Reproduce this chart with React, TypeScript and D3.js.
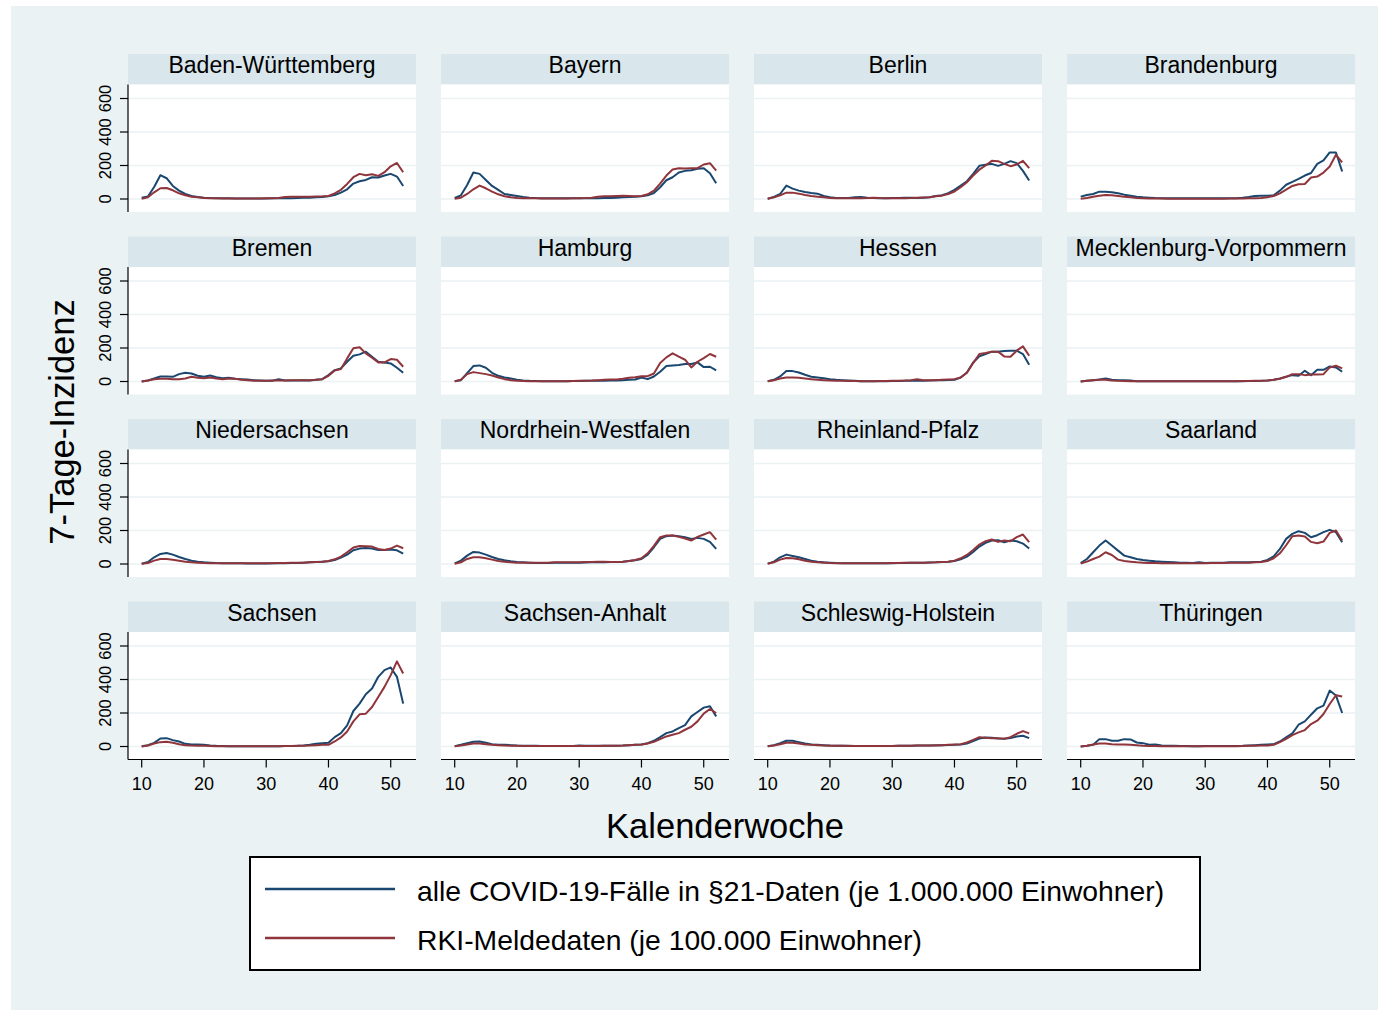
import * as d3 from "d3";

// Kalenderwochen 10..52
const weeks = [10, 11, 12, 13, 14, 15, 16, 17, 18, 19, 20, 21, 22, 23, 24, 25, 26, 27, 28, 29, 30, 31, 32, 33, 34, 35, 36, 37, 38, 39, 40, 41, 42, 43, 44, 45, 46, 47, 48, 49, 50, 51, 52];
const xTicks = [10, 20, 30, 40, 50];
const yTicks = [0, 200, 400, 600];

// blau: alle COVID-19-Fälle in §21-Daten (je 1.000.000), rot: RKI-Meldedaten (je 100.000)
const bw21 = [8, 15, 72, 142, 124, 78, 50, 30, 18, 12, 8, 6, 5, 4, 4, 3, 3, 3, 3, 3, 3, 4, 4, 5, 5, 6, 7, 8, 10, 12, 16, 24, 38, 58, 92, 106, 114, 130, 128, 140, 150, 134, 78];
const bwRki = [2, 10, 40, 64, 66, 52, 34, 22, 14, 10, 6, 5, 4, 3, 3, 3, 3, 3, 3, 3, 4, 5, 6, 12, 14, 14, 13, 14, 15, 16, 18, 34, 55, 90, 130, 150, 142, 148, 138, 160, 195, 215, 160];
const by21 = [6, 22, 84, 158, 150, 114, 78, 54, 30, 24, 18, 12, 8, 6, 5, 4, 4, 4, 4, 4, 4, 4, 5, 5, 6, 6, 8, 10, 12, 14, 16, 22, 36, 70, 112, 130, 158, 168, 172, 180, 184, 154, 94];
const byRki = [2, 8, 30, 58, 80, 64, 44, 28, 16, 10, 6, 5, 4, 4, 3, 3, 3, 3, 3, 4, 5, 6, 8, 14, 16, 16, 18, 20, 18, 16, 18, 28, 50, 92, 140, 176, 184, 182, 184, 184, 206, 214, 170];
const be21 = [2, 12, 30, 80, 62, 50, 42, 36, 32, 18, 10, 6, 6, 6, 10, 12, 8, 6, 4, 4, 6, 6, 8, 8, 6, 8, 10, 18, 22, 35, 55, 80, 106, 150, 198, 204, 210, 198, 210, 226, 214, 168, 110];
const beRki = [2, 10, 22, 38, 38, 32, 24, 18, 14, 10, 6, 5, 4, 4, 4, 5, 6, 8, 6, 5, 4, 4, 5, 6, 8, 9, 10, 16, 20, 30, 45, 70, 100, 140, 175, 200, 228, 226, 210, 196, 206, 228, 184];
const bb21 = [14, 24, 30, 44, 44, 40, 34, 26, 20, 14, 10, 8, 6, 5, 4, 4, 4, 4, 4, 4, 4, 4, 4, 4, 4, 5, 8, 12, 18, 20, 20, 22, 50, 85, 102, 120, 140, 155, 210, 230, 278, 278, 164];
const bbRki = [2, 6, 14, 20, 24, 22, 18, 14, 10, 6, 4, 3, 3, 3, 2, 2, 2, 2, 2, 2, 2, 2, 2, 2, 3, 3, 3, 4, 5, 6, 10, 18, 34, 56, 78, 88, 90, 128, 134, 158, 194, 264, 218];
const hb21 = [0, 6, 18, 30, 30, 28, 44, 52, 48, 34, 28, 36, 26, 20, 22, 16, 14, 12, 8, 6, 4, 4, 14, 6, 6, 6, 8, 6, 10, 14, 38, 68, 78, 118, 154, 162, 178, 148, 118, 114, 108, 82, 52];
const hbRki = [0, 6, 14, 16, 16, 14, 14, 18, 28, 22, 20, 24, 18, 14, 18, 16, 10, 8, 4, 4, 4, 6, 6, 6, 8, 8, 8, 8, 10, 14, 34, 66, 74, 138, 198, 204, 168, 142, 114, 114, 134, 130, 88];
const hh21 = [2, 8, 50, 92, 96, 82, 52, 34, 24, 18, 10, 6, 4, 3, 2, 2, 2, 2, 2, 3, 3, 4, 4, 5, 5, 6, 6, 8, 10, 12, 24, 14, 30, 58, 92, 96, 98, 104, 104, 114, 86, 88, 66];
const hhRki = [2, 10, 44, 56, 50, 44, 36, 24, 14, 8, 4, 3, 2, 2, 2, 2, 2, 2, 2, 3, 4, 5, 6, 8, 10, 12, 12, 16, 22, 26, 32, 32, 48, 110, 144, 168, 148, 130, 84, 118, 140, 164, 148];
const he21 = [2, 10, 30, 62, 62, 54, 40, 28, 24, 20, 14, 10, 8, 6, 4, 2, 2, 2, 2, 2, 3, 3, 4, 4, 5, 5, 6, 7, 8, 9, 10, 24, 54, 114, 150, 164, 178, 178, 182, 184, 184, 164, 100];
const heRki = [2, 8, 18, 24, 24, 22, 18, 14, 10, 8, 6, 5, 4, 3, 3, 2, 2, 2, 3, 3, 4, 5, 6, 8, 14, 8, 8, 8, 10, 12, 14, 24, 52, 110, 164, 170, 178, 178, 150, 148, 184, 210, 154];
const mv21 = [0, 4, 8, 12, 18, 10, 8, 8, 6, 2, 2, 2, 2, 2, 2, 2, 2, 2, 2, 2, 2, 2, 2, 2, 2, 2, 2, 3, 3, 4, 6, 10, 18, 28, 38, 34, 64, 38, 70, 70, 90, 84, 58];
const mvRki = [0, 4, 8, 10, 10, 6, 4, 3, 2, 2, 2, 2, 2, 2, 2, 2, 2, 2, 2, 2, 2, 2, 2, 2, 2, 2, 3, 3, 4, 4, 6, 10, 16, 28, 44, 44, 38, 42, 42, 44, 84, 94, 78];
const ni21 = [2, 12, 40, 60, 66, 56, 42, 30, 20, 14, 10, 8, 6, 5, 4, 4, 4, 3, 3, 3, 3, 4, 4, 5, 6, 6, 8, 10, 12, 14, 16, 24, 38, 56, 82, 92, 96, 92, 84, 84, 86, 82, 62];
const niRki = [1, 6, 20, 30, 30, 26, 20, 14, 10, 8, 6, 5, 4, 4, 4, 4, 4, 4, 4, 4, 4, 5, 6, 6, 7, 8, 8, 10, 12, 14, 18, 28, 44, 70, 98, 108, 106, 104, 90, 84, 92, 110, 94];
const nw21 = [4, 20, 50, 72, 68, 56, 42, 30, 22, 16, 12, 10, 8, 6, 6, 6, 7, 8, 8, 8, 8, 9, 10, 10, 11, 12, 12, 14, 18, 22, 30, 56, 100, 150, 166, 170, 166, 160, 150, 156, 150, 132, 90];
const nwRki = [2, 10, 30, 40, 40, 34, 26, 18, 14, 10, 8, 8, 7, 7, 8, 8, 10, 10, 10, 10, 10, 12, 12, 14, 14, 12, 12, 14, 18, 24, 34, 64, 108, 160, 170, 170, 162, 152, 140, 162, 176, 190, 145];
const rp21 = [2, 14, 40, 56, 48, 40, 30, 20, 14, 10, 8, 6, 5, 4, 4, 4, 4, 4, 4, 5, 5, 6, 6, 7, 8, 8, 9, 10, 12, 14, 18, 28, 44, 72, 104, 126, 140, 142, 130, 140, 136, 122, 92];
const rpRki = [2, 10, 26, 36, 34, 28, 20, 14, 10, 8, 6, 5, 4, 4, 4, 4, 4, 4, 4, 5, 6, 6, 8, 8, 8, 8, 9, 10, 12, 14, 20, 34, 54, 84, 116, 136, 146, 132, 140, 136, 160, 176, 130];
const sl21 = [6, 30, 70, 110, 140, 110, 80, 50, 40, 30, 24, 20, 16, 14, 12, 10, 8, 8, 6, 10, 6, 8, 8, 8, 10, 10, 10, 10, 12, 14, 24, 46, 90, 150, 180, 196, 186, 160, 172, 190, 204, 190, 130];
const slRki = [2, 14, 30, 44, 70, 54, 26, 18, 14, 10, 8, 6, 6, 5, 5, 5, 5, 5, 5, 5, 5, 6, 6, 6, 7, 8, 8, 8, 10, 12, 18, 34, 64, 112, 166, 170, 164, 132, 124, 134, 186, 200, 140];
const sn21 = [2, 8, 22, 48, 50, 38, 30, 16, 12, 12, 10, 6, 4, 3, 2, 2, 2, 2, 2, 2, 2, 2, 2, 3, 3, 4, 6, 10, 16, 20, 22, 56, 80, 126, 212, 256, 312, 346, 416, 456, 472, 416, 256];
const snRki = [0, 6, 18, 26, 28, 22, 14, 8, 6, 5, 4, 3, 2, 2, 2, 2, 2, 2, 2, 2, 2, 2, 2, 3, 3, 4, 5, 6, 8, 10, 10, 30, 54, 90, 150, 192, 196, 236, 296, 356, 426, 508, 436];
const st21 = [2, 10, 20, 28, 30, 22, 14, 10, 10, 8, 6, 5, 4, 4, 3, 3, 3, 3, 3, 3, 6, 4, 4, 5, 4, 4, 5, 6, 8, 10, 12, 20, 34, 56, 80, 90, 110, 128, 180, 206, 232, 240, 180];
const stRki = [1, 6, 12, 18, 18, 14, 10, 8, 6, 5, 4, 3, 3, 3, 3, 3, 3, 3, 3, 3, 3, 3, 3, 3, 4, 4, 5, 6, 8, 10, 12, 18, 28, 44, 60, 70, 80, 100, 118, 150, 196, 224, 200];
const sh21 = [2, 8, 20, 34, 34, 26, 18, 12, 10, 8, 6, 5, 4, 4, 3, 3, 3, 3, 3, 3, 3, 4, 4, 5, 6, 6, 6, 7, 8, 9, 10, 12, 18, 32, 48, 54, 52, 48, 46, 50, 60, 64, 50];
const shRki = [1, 6, 14, 22, 22, 18, 12, 10, 8, 6, 5, 4, 4, 3, 3, 3, 3, 3, 3, 3, 3, 4, 4, 5, 6, 6, 6, 6, 8, 10, 12, 14, 24, 40, 56, 52, 50, 50, 46, 56, 76, 92, 78];
const th21 = [0, 4, 10, 44, 44, 34, 34, 44, 42, 24, 20, 10, 12, 6, 4, 4, 3, 3, 2, 2, 3, 3, 3, 3, 3, 3, 4, 6, 8, 10, 12, 14, 30, 54, 78, 130, 150, 190, 228, 244, 334, 304, 200];
const thRki = [0, 4, 12, 18, 18, 14, 12, 12, 10, 8, 4, 3, 3, 2, 2, 2, 2, 2, 2, 2, 2, 2, 2, 2, 2, 2, 3, 4, 5, 6, 6, 10, 26, 46, 68, 84, 98, 134, 154, 194, 254, 306, 298];

const stateNames = [
  "Baden-Württemberg", "Bayern", "Berlin", "Brandenburg",
  "Bremen", "Hamburg", "Hessen", "Mecklenburg-Vorpommern",
  "Niedersachsen", "Nordrhein-Westfalen", "Rheinland-Pfalz", "Saarland",
  "Sachsen", "Sachsen-Anhalt", "Schleswig-Holstein", "Thüringen",
]
const series21 = [bw21, by21, be21, bb21, hb21, hh21, he21, mv21, ni21, nw21, rp21, sl21, sn21, st21, sh21, th21]
const seriesRki = [bwRki, byRki, beRki, bbRki, hbRki, hhRki, heRki, mvRki, niRki, nwRki, rpRki, slRki, snRki, stRki, shRki, thRki]

const legendLabels = [
  "alle COVID-19-Fälle in §21-Daten (je 1.000.000 Einwohner)",
  "RKI-Meldedaten (je 100.000 Einwohner)",
]

const BLUE = "#1a476f"
const RED = "#90353b"
const BG = "#eaf2f3"
const HEAD = "#d9e6eb"
const FONT = "'Liberation Sans', Arial, Helvetica, sans-serif"

const colX = [128, 441, 754, 1067]
const rowY = [54, 236.5, 419, 601.5]
const panelW = 288
const headH = 30.5
const plotH = 127.5

export default function App() {
  const x = d3.scaleLinear().domain([7.8, 54.06]).range([0, panelW])
  const y = d3.scaleLinear().domain([-77.6, 683.6]).range([plotH, 0])
  const line = d3
    .line<number>()
    .x((_, i) => x(weeks[i]))
    .y((d) => y(d))

  return (
    <svg
      width={1380}
      height={1012}
      viewBox="0 0 1380 1012"
      style={{ position: "absolute", left: 0, top: 0, display: "block" }}
      fontFamily={FONT}
    >
      <rect width={1380} height={1012} fill="#fff" />
      <rect x={11} y={6} width={1367} height={1004} fill={BG} />

      {stateNames.map((name, i) => {
        const col = i % 4
        const row = Math.floor(i / 4)
        return (
          <g key={name} transform={`translate(${colX[col]},${rowY[row] + headH})`}>
            <rect x={0} y={-headH} width={panelW} height={headH} fill={HEAD} />
            <text x={panelW / 2} y={-headH + 19} textAnchor="middle" fontSize={23} fill="#000">
              {name}
            </text>
            <rect x={0} y={0} width={panelW} height={plotH} fill="#fff" />
            {yTicks.map((t) => (
              <line key={t} x1={0} x2={panelW} y1={y(t)} y2={y(t)} stroke={BG} strokeWidth={1.6} />
            ))}
            <path d={line(series21[i]) ?? ""} fill="none" stroke={BLUE} strokeWidth={2} strokeLinejoin="round" />
            <path d={line(seriesRki[i]) ?? ""} fill="none" stroke={RED} strokeWidth={2} strokeLinejoin="round" />

            {col === 0 && (
              <g>
                <line x1={0} x2={0} y1={0} y2={plotH} stroke="#000" strokeWidth={1.2} />
                {yTicks.map((t) => (
                  <g key={t}>
                    <line x1={-8} x2={0} y1={y(t)} y2={y(t)} stroke="#000" strokeWidth={1.2} />
                    <text
                      transform={`translate(-17,${y(t)}) rotate(-90)`}
                      textAnchor="middle"
                      fontSize={16.5}
                      fill="#000"
                    >
                      {t}
                    </text>
                  </g>
                ))}
              </g>
            )}

            {row === 3 && (
              <g>
                <line x1={0} x2={panelW} y1={plotH} y2={plotH} stroke="#000" strokeWidth={1.2} />
                {xTicks.map((t) => (
                  <g key={t}>
                    <line x1={x(t)} x2={x(t)} y1={plotH} y2={plotH + 8} stroke="#000" strokeWidth={1.2} />
                    <text x={x(t)} y={plotH + 30} textAnchor="middle" fontSize={18} fill="#000">
                      {t}
                    </text>
                  </g>
                ))}
              </g>
            )}
          </g>
        )
      })}

      <text transform="translate(74,422) rotate(-90)" textAnchor="middle" fontSize={34.5} fill="#000">
        7-Tage-Inzidenz
      </text>
      <text x={725} y={838} textAnchor="middle" fontSize={34.5} fill="#000">
        Kalenderwoche
      </text>

      <rect x={250} y={857} width={950} height={113} fill="#fff" stroke="#000" strokeWidth={2} />
      {legendLabels.map((lab, i) => (
        <g key={lab}>
          <line x1={265} x2={395} y1={889 + i * 49} y2={889 + i * 49} stroke={i === 0 ? BLUE : RED} strokeWidth={2.5} />
          <text x={417} y={901 + i * 49} fontSize={28.3} fill="#000">
            {lab}
          </text>
        </g>
      ))}
    </svg>
  )
}
